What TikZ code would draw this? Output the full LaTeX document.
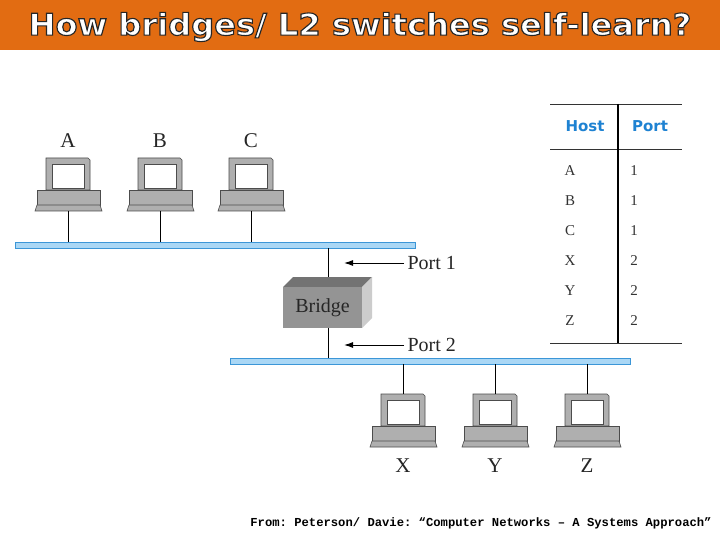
\documentclass[tikz,border=0pt]{standalone}
\usepackage{fontspec}
\usetikzlibrary{arrows.meta}
\setmainfont{Liberation Serif}
\newfontfamily\titlefont{DejaVu Sans Bold}
\newfontfamily\hdrfont{DejaVu Sans}
\setmonofont{Liberation Mono}
\definecolor{ttlorange}{RGB}{226,108,18}
\definecolor{busblue}{RGB}{170,215,245}
\definecolor{busedge}{RGB}{60,150,215}
\definecolor{hdrblue}{RGB}{30,130,210}
\definecolor{pcgray}{RGB}{175,175,175}
\begin{document}
\begin{tikzpicture}[x=1pt,y=-1pt,
  lbl/.style={font=\fontsize{21}{21}\selectfont, text=black!85},
  cell/.style={font=\fontsize{15}{15}\selectfont, text=black!80},
  hdr/.style={font=\hdrfont\bfseries\fontsize{15}{15}\selectfont, text=hdrblue},
  bus/.style={fill=busblue, draw=busedge, line width=1pt},
  wire/.style={line width=1pt, black}]
\useasboundingbox (0,0) rectangle (720,540);
\fill[white] (0,0) rectangle (720,540);
\fill[ttlorange] (0,0) rectangle (720,50);
\node[font=\titlefont\fontsize{30}{30}\selectfont, text=white, xscale=1.07] (title) at (360,27)
  {\special{pdf:literal direct 2 Tr 1.1 w 0.15 0.15 0.15 RG}How bridges/ L2 switches self-learn?\special{pdf:literal direct 0 Tr}};
% computer pic
\newcommand{\pcicon}[3]{%
  \begin{scope}[shift={(#1,#2)}]
   \fill[pcgray, draw=black!70, line width=.6pt] (-22,-32) -- (20,-32) -- (22,-30) -- (22,0) -- (-22,0) -- (-22,-30) -- cycle;
   \fill[white, draw=black!70, line width=.6pt] (-16,-26) rectangle (16,-2);
   \fill[pcgray, draw=black!70, line width=.6pt] (-31,0) rectangle (32,15);
   \fill[pcgray, draw=black!70, line width=.6pt] (-31,15) -- (32,15) -- (34,21) -- (-33,21) -- cycle;
   \coordinate (#3b) at (0,21);
   \coordinate (#3t) at (0,-32);
  \end{scope}}
\pcicon{68}{190}{pa}
\pcicon{160}{190}{pb}
\pcicon{251}{190}{pc}
\pcicon{403}{426}{px}
\pcicon{495}{426}{py}
\pcicon{587}{426}{pz}
\node[lbl] (la) at (68,141) {A};
\node[lbl] (lb) at (160,141) {B};
\node[lbl] (lc) at (251,141) {C};
\node[lbl] (lx) at (403,466) {X};
\node[lbl] (ly) at (495,466) {Y};
\node[lbl] (lz) at (587,466) {Z};
% buses
\draw[bus] (15,242) rectangle (415,248);
\draw[bus] (230,358) rectangle (630,364);
\coordinate (b1a) at (68,242); \coordinate (b1b) at (160,242); \coordinate (b1c) at (251,242);
\coordinate (b2x) at (403,364); \coordinate (b2y) at (495,364); \coordinate (b2z) at (587,364);
\draw[wire] (pab) -- (b1a); \draw[wire] (pbb) -- (b1b); \draw[wire] (pcb) -- (b1c);
\draw[wire] (pxt) -- (b2x); \draw[wire] (pyt) -- (b2y); \draw[wire] (pzt) -- (b2z);
% bridge
\fill[black!55] (283,287) -- (293,277) -- (372,277) -- (362,287) -- cycle;
\fill[black!20] (362,287) -- (372,277) -- (372,318) -- (362,328) -- cycle;
\node[fill=black!42, minimum width=79pt, minimum height=41pt, inner sep=0pt, font=\fontsize{20}{20}\selectfont, text=black!85] (bridge) at (322.5,307.5) {Bridge};
\coordinate (bt) at (328,248); \coordinate (bb) at (328,358);
\draw[wire] (bt) -- (328,277);
\draw[wire] (bridge.south -| bb) -- (bb);
% ports
\node[lbl, anchor=west, font=\fontsize{20}{20}\selectfont] (p1) at (404,263) {Port 1};
\node[lbl, anchor=west, font=\fontsize{20}{20}\selectfont] (p2) at (404,345) {Port 2};
\draw[-{Latex[length=9pt,width=6pt]}, line width=1pt, black] (p1.west) -- ++(-60,0);
\draw[-{Latex[length=9pt,width=6pt]}, line width=1pt, black] (p2.west) -- ++(-60,0);
% table
\draw[black!80, line width=.8pt] (550,104) -- (682,104);
\draw[black!80, line width=.8pt] (550,149) -- (682,149);
\draw[black!80, line width=.8pt] (550,343) -- (682,343);
\draw[black, line width=1.2pt] (618,104) -- (618,343);
\node[hdr] (hh) at (585,126) {Host};
\node[hdr] (hp) at (650,126) {Port};
\foreach \h/\p [count=\i] in {A/1,B/1,C/1,X/2,Y/2,Z/2}{
  \node[cell] (h\i) at (570,141+30*\i) {\h};
  \node[cell] (q\i) at (634,141+30*\i) {\p};
}
\node[font=\ttfamily\bfseries\fontsize{12.2}{12}\selectfont] (src) at (481,523) {From: Peterson/ Davie: “Computer Networks – A Systems Approach”};
\end{tikzpicture}
\end{document}
